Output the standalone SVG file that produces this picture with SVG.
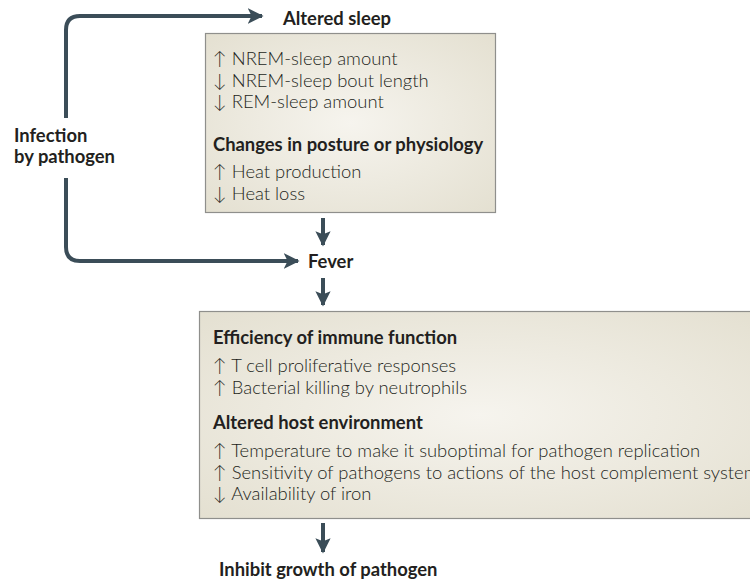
<svg xmlns="http://www.w3.org/2000/svg" width="750" height="583" viewBox="0 0 750 583">
<defs>
<radialGradient id="bg" cx="0.5" cy="0.5" r="0.7">
<stop offset="0" stop-color="#f6f4ee"/>
<stop offset="1" stop-color="#e4e0d1"/>
</radialGradient>
<marker id="ah" viewBox="0 0 10 10" refX="9" refY="5" markerWidth="4" markerHeight="4" markerUnits="strokeWidth" orient="auto">
<path d="M0,0 L10,5 L0,10 L2.5,5 Z" fill="#3b4d58"/>
</marker>
<marker id="ad" viewBox="0 0 10 10" refX="9" refY="5" markerWidth="3.8" markerHeight="3.8" markerUnits="strokeWidth" orient="auto">
<path d="M0,0 L10,5 L0,10 L2,5 Z" fill="#3b4d58"/>
</marker>
</defs>
<style>
text{font-family:Lato,"Open Sans","Liberation Sans",sans-serif;fill:#231f20;}
.b{font-weight:bold;font-size:18.4px;}
.t{font-size:18.4px;font-weight:300;}
.box{fill:url(#bg);stroke:#8f8f8c;stroke-width:1.2;}
.c{fill:none;stroke:#3b4d58;stroke-width:4;}
</style>
<g id="connectors">
<path class="c" d="M66,118 V30 Q66,16 80,16 H262" marker-end="url(#ah)"/>
<path class="c" d="M66,178 V247 Q66,261 80,261 H298" marker-end="url(#ah)"/>
<path class="c" d="M323,218 V245" marker-end="url(#ad)"/>
<path class="c" d="M323,278 V305" marker-end="url(#ad)"/>
<path class="c" d="M323,523 V552" marker-end="url(#ad)"/>
</g>
<g id="infection">
<text class="b" x="14" y="142">Infection</text>
<text class="b" x="14" y="163">by pathogen</text>
</g>
<g id="altered-sleep">
<text class="b" x="283" y="25">Altered sleep</text>
<rect class="box" x="205.5" y="33.5" width="290" height="179"/>
<text class="t" x="213" y="65">↑ NREM-sleep amount</text>
<text class="t" x="213" y="87">↓ NREM-sleep bout length</text>
<text class="t" x="213" y="108">↓ REM-sleep amount</text>
<text class="b" x="213" y="151">Changes in posture or physiology</text>
<text class="t" x="213" y="178">↑ Heat production</text>
<text class="t" x="213" y="200">↓ Heat loss</text>
</g>
<g id="fever">
<text class="b" x="308" y="268">Fever</text>
</g>
<g id="effects">
<rect class="box" x="199.5" y="311.5" width="560" height="207"/>
<text class="b" x="213" y="344">Efficiency of immune function</text>
<text class="t" x="213" y="372">↑ T cell proliferative responses</text>
<text class="t" x="213" y="394">↑ Bacterial killing by neutrophils</text>
<text class="b" x="213" y="429">Altered host environment</text>
<text class="t" x="213" y="457">↑ Temperature to make it suboptimal for pathogen replication</text>
<text class="t" x="213" y="479">↑ Sensitivity of pathogens to actions of the host complement system</text>
<text class="t" x="213" y="500">↓ Availability of iron</text>
</g>
<g id="inhibit">
<text class="b" x="219" y="576">Inhibit growth of pathogen</text>
</g>
</svg>
